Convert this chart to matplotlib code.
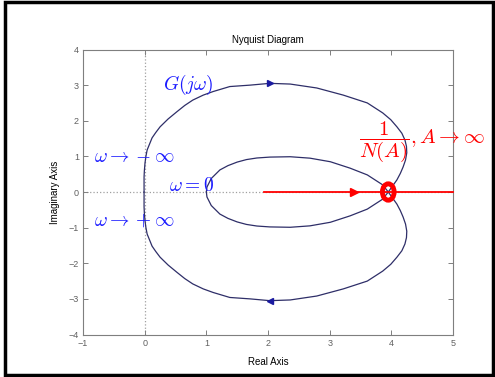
import numpy as np
import matplotlib.pyplot as plt
from matplotlib.patches import Ellipse, Rectangle

plt.rcParams['mathtext.fontset'] = 'cm'
plt.rcParams['font.family'] = ['Liberation Sans', 'DejaVu Sans']

# G(jw) for w >= 0, starting at w = 0 and running out to w -> +inf
re_pos = [1.00, 1.01, 1.08, 1.22, 1.35, 1.50, 1.65, 1.82, 2.03, 2.36, 2.68, 3.01,
          3.33, 3.61, 3.86, 3.95, 4.09, 4.145, 4.19, 4.23, 4.25, 4.245, 4.22, 4.17,
          4.09, 3.99, 3.86, 3.61, 3.22, 2.79, 2.36, 2.03, 1.71, 1.38, 1.11, 0.95,
          0.78, 0.65, 0.52, 0.38, 0.25, 0.18, 0.12, 0.08, 0.04, 0.02, 0.005, -0.005,
          -0.01, -0.01, -0.01]
im_pos = [0.00, 0.14, 0.38, 0.62, 0.74, 0.84, 0.91, 0.955, 0.98, 0.99, 0.95, 0.85,
          0.67, 0.48, 0.20, 0.00, -0.34, -0.52, -0.70, -0.90, -1.10, -1.28, -1.46, -1.65,
          -1.83, -2.03, -2.22, -2.50, -2.72, -2.92, -3.03, -3.05, -3.00, -2.96, -2.82, -2.72,
          -2.58, -2.43, -2.25, -2.05, -1.83, -1.67, -1.52, -1.35, -1.18, -1.00, -0.81, -0.60,
          -0.42, -0.25, 0.0]

# describing function locus -1/N(A)
nl_start = 1.93
nl_end = 5.0
nl_arrow = 3.40
cross_re = 3.95

re_pos = np.array(re_pos)
im_pos = np.array(im_pos)
# negative frequencies are the mirror image
re_neg = re_pos[::-1]
im_neg = -im_pos[::-1]

fig = plt.figure(figsize=(4.95, 3.77), dpi=100)
ax = fig.add_axes([0.1677, 0.1127, 0.7475, 0.756])

gray = '#7f7f7f'
ax.axhline(0, color='#a0a0a0', ls=':', lw=0.9, zorder=1)
ax.axvline(0, color='#a0a0a0', ls=':', lw=0.9, zorder=1)

curve_c = '#2e2e68'
ax.plot(re_pos, im_pos, color=curve_c, lw=0.9, zorder=3)
ax.plot(re_neg, im_neg, color=curve_c, lw=0.9, zorder=3)

# direction arrows at the peaks of the outer arcs
k = int(np.argmin(im_pos))
ax.plot(re_pos[k], im_pos[k], marker='<', color='#1a1aa0', ms=4.5, zorder=4)
ax.plot(re_pos[k], -im_pos[k], marker='>', color='#1a1aa0', ms=4.5, zorder=4)

# -1/N(A) locus
ax.plot([nl_start, nl_end], [0, 0], color='red', lw=1.3, zorder=5, clip_on=False)
ax.plot(nl_arrow, 0, marker='>', color='red', ms=5.5, zorder=5)
ax.add_patch(Ellipse((cross_re, 0), 0.19, 0.46, fill=False, ec='red', lw=3.5, zorder=6))

blue = '#1a1aff'
ax.text(0.3, 3.0, r'$G(j\omega)$', color=blue, fontsize=14, va='center')
ax.text(-0.82, 0.98, r'$\omega \rightarrow -\infty$', color=blue, fontsize=14, va='center')
ax.text(-0.82, -0.80, r'$\omega \rightarrow +\infty$', color=blue, fontsize=14, va='center')
ax.text(0.40, 0.17, r'$\omega = 0$', color=blue, fontsize=14, va='center')
ax.text(3.48, 1.42, r'$\dfrac{1}{N(A)}, A \rightarrow \infty$', color='red', fontsize=15,
        va='center', clip_on=False)

ax.set_xlim(-1, 5)
ax.set_ylim(-4, 4)
ax.set_xticks(range(-1, 6))
ax.set_yticks(range(-4, 5))
ax.tick_params(direction='in', length=3.5, width=0.7, color=gray, labelcolor='#606060',
               labelsize=6.5, top=True, right=True, pad=3)
for s in ax.spines.values():
    s.set_color(gray)
    s.set_linewidth(0.8)

ax.set_title('Nyquist Diagram', fontsize=7, pad=5)
ax.set_xlabel('Real Axis', fontsize=7, labelpad=7)
ax.set_ylabel('Imaginary Axis', fontsize=7, labelpad=6)

fig.add_artist(Rectangle((0.011, 0.006), 0.984, 0.99, transform=fig.transFigure,
                         fill=False, ec='black', lw=2.5))

fig.savefig('out.png', dpi=100)
